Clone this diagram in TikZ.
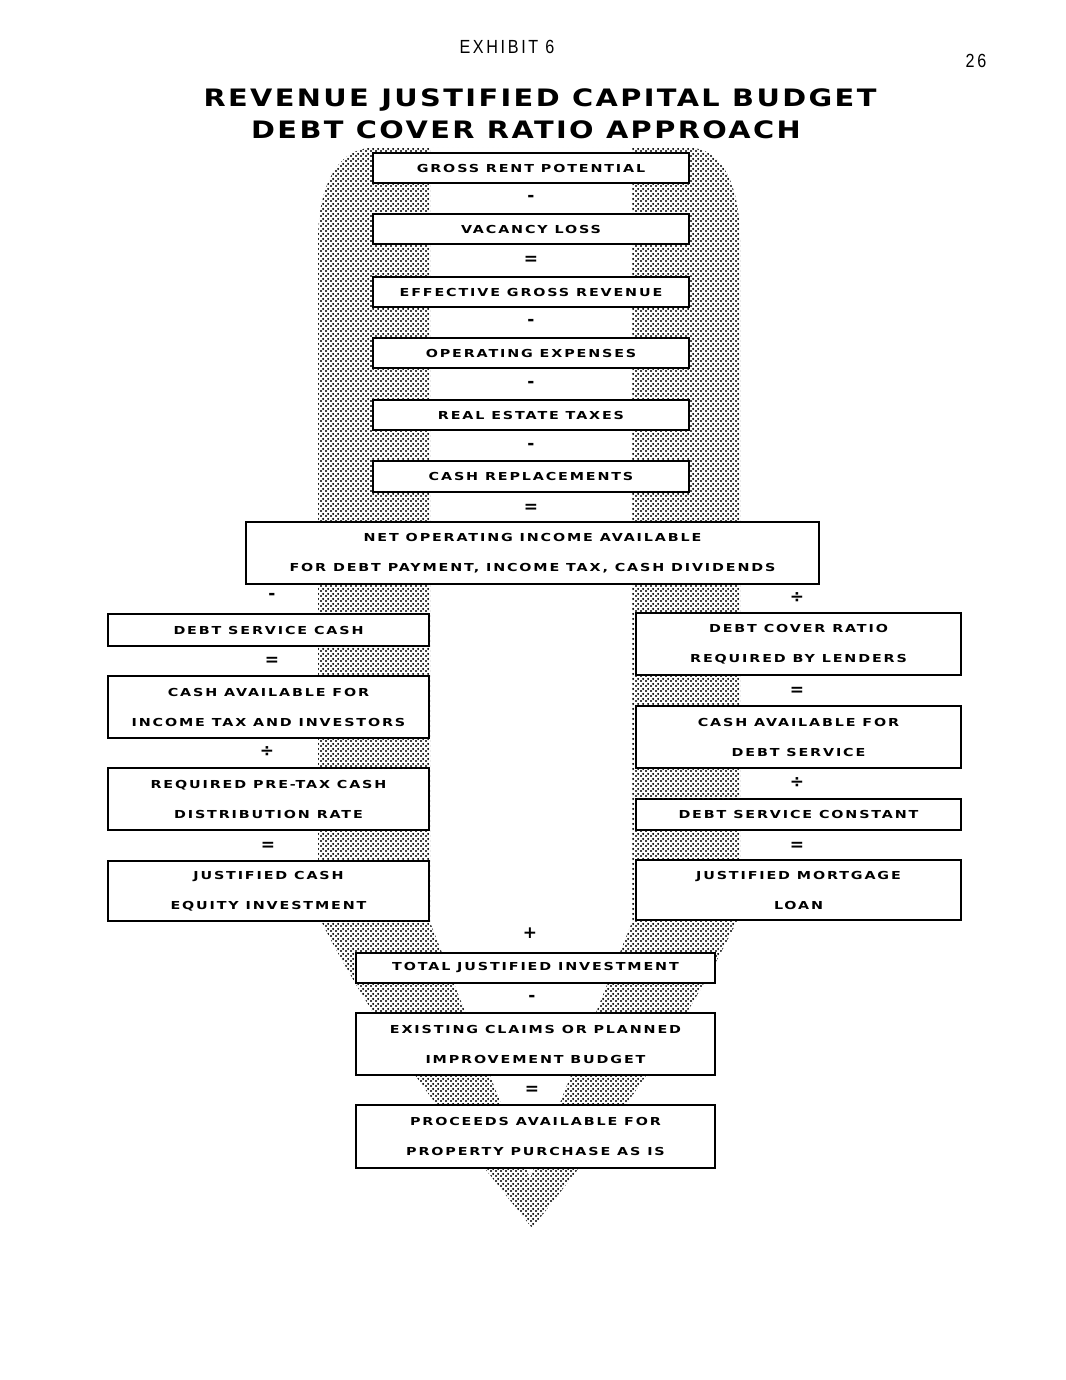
\documentclass[tikz,border=0pt]{standalone}
\usepackage{fontspec}
\usetikzlibrary{patterns.meta}
\newfontfamily\boxfont{DejaVu Sans}[FakeStretch=1.3, LetterSpace=17]
\newfontfamily\titlefont{DejaVu Sans}[FakeStretch=1.2, LetterSpace=10]
\newfontfamily\exfont{Liberation Sans}[FakeStretch=0.85, LetterSpace=14]
\newfontfamily\signfont{DejaVu Sans}
\tikzdeclarepattern{
  name=stipple,
  type=uncolored,
  bounding box={(0pt,0pt) and (5pt,4.5pt)},
  tile size={(5pt,4.5pt)},
  code={
    \fill (1.25pt,1.1pt) circle (1.3pt);
    \fill (3.75pt,3.35pt) circle (1.3pt);
  }
}
\tikzset{
  box/.style={draw=black, line width=2.2pt, fill=white, inner sep=0pt, align=center,
    font={\boxfont\bfseries\fontsize{11pt}{30pt}\selectfont}},
  topbox/.style={box, minimum width=316pt, minimum height=30pt},
  leftbox/.style={box, minimum width=321pt},
  rightbox/.style={box, minimum width=325pt},
  botbox/.style={box, minimum width=359pt},
  sign/.style={inner sep=0pt, font={\signfont\bfseries\fontsize{17pt}{17pt}\selectfont}},
  ttl/.style={inner sep=0pt, font={\titlefont\bfseries\fontsize{24pt}{24pt}\selectfont}}
}
\begin{document}
\begin{tikzpicture}[x=1pt, y=-1pt]
\useasboundingbox (0,0) rectangle (1065,1380);
\fill[white] (0,0) rectangle (1065,1380);

% stippled background
\fill[pattern=stipple, pattern color=black, even odd rule]
  (318,915) -- (318,240) .. controls (318,190) and (335,152) .. (368,148)
  -- (694,148) .. controls (725,152) and (740,190) .. (740,240)
  -- (740,915) .. controls (680,1040) and (594,1150) .. (532,1228)
  .. controls (470,1150) and (380,1040) .. (318,915) -- cycle
  (430,148) -- (632,148) -- (632,922) -- (530,1178) -- (430,922) -- cycle;

% headings
\node[inner sep=0pt, font={\exfont\fontsize{19pt}{19pt}\selectfont}] (exh) at (507,47) {EXHIBIT 6};
\node[inner sep=0pt, font={\exfont\fontsize{19pt}{19pt}\selectfont}] (pg) at (976,61) {26};
\node[ttl] (t1) at (540,100) {REVENUE JUSTIFIED CAPITAL BUDGET};
\node[ttl] (t2) at (526,130) {DEBT COVER RATIO APPROACH};

% main column
\node[topbox] (grp) at (531,168) {GROSS RENT POTENTIAL};
\node[sign] (s1) at (531,198) {-};
\node[topbox] (vac) at (531,229) {VACANCY LOSS};
\node[sign] (s2) at (531,260) {=};
\node[topbox] (egr) at (531,292) {EFFECTIVE GROSS REVENUE};
\node[sign] (s3) at (531,322) {-};
\node[topbox] (opx) at (531,353) {OPERATING EXPENSES};
\node[sign] (s4) at (531,384) {-};
\node[topbox] (ret) at (531,415) {REAL ESTATE TAXES};
\node[sign] (s5) at (531,446) {-};
\node[topbox, minimum height=31pt] (crp) at (531,476.5) {CASH REPLACEMENTS};
\node[sign] (s6) at (531,508) {=};
\node[box, minimum width=573pt, minimum height=62pt] (noi) at (532.5,553)
  {NET OPERATING INCOME AVAILABLE\\FOR DEBT PAYMENT, INCOME TAX, CASH DIVIDENDS};

% left column
\node[sign] (s7) at (272,596) {-};
\node[leftbox, minimum height=32pt] (dsc) at (268.5,630) {DEBT SERVICE CASH};
\node[sign] (s9) at (272,661) {=};
\node[leftbox, minimum height=62pt] (cai) at (268.5,707) {CASH AVAILABLE FOR\\INCOME TAX AND INVESTORS};
\node[sign] (s10) at (267,752) {÷};
\node[leftbox, minimum height=62pt] (rpt) at (268.5,799) {REQUIRED PRE-TAX CASH\\DISTRIBUTION RATE};
\node[sign] (s11) at (268,846) {=};
\node[leftbox, minimum height=60pt] (jce) at (268.5,891) {JUSTIFIED CASH\\EQUITY INVESTMENT};

% right column
\node[sign] (s8) at (797,598) {÷};
\node[rightbox, minimum height=62pt] (dcr) at (798.5,644) {DEBT COVER RATIO\\REQUIRED BY LENDERS};
\node[sign] (s12) at (797,691) {=};
\node[rightbox, minimum height=62pt] (cad) at (798.5,737) {CASH AVAILABLE FOR\\DEBT SERVICE};
\node[sign] (s13) at (797,783) {÷};
\node[rightbox, minimum height=31pt] (dsk) at (798.5,814.5) {DEBT SERVICE CONSTANT};
\node[sign] (s14) at (797,846) {=};
\node[rightbox, minimum height=60pt] (jml) at (798.5,890) {JUSTIFIED MORTGAGE\\LOAN};

% bottom column
\node[sign] (s15) at (530,933) {+};
\node[botbox, minimum height=30pt] (tji) at (535.5,968) {TOTAL JUSTIFIED INVESTMENT};
\node[sign] (s16) at (532,998) {-};
\node[botbox, minimum height=62pt] (ecl) at (535.5,1044) {EXISTING CLAIMS OR PLANNED\\IMPROVEMENT BUDGET};
\node[sign] (s17) at (532,1090) {=};
\node[botbox, minimum height=63pt] (pra) at (535.5,1136.5) {PROCEEDS AVAILABLE FOR\\PROPERTY PURCHASE AS IS};
\end{tikzpicture}
\end{document}
